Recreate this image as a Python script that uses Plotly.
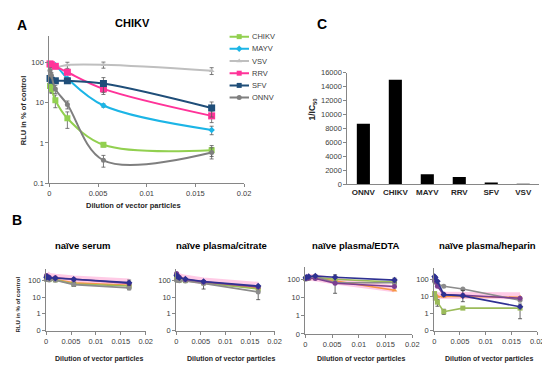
import plotly.graph_objects as go

W, H = 550, 366
FONT = "Arial, Liberation Sans, sans-serif"

# ---------------- data ----------------
dilution = [1/14580, 1/4860, 1/1620, 1/540, 1/180, 1/60]

a_names = ["CHIKV", "MAYV", "VSV", "RRV", "SFV", "ONNV"]
a_colors = ["#92d050", "#1cb5e6", "#bfbfbf", "#ff3399", "#1f4e79", "#7f7f7f"]
a_symbols = ["square", "diamond", "triangle-up", "square", "square", "circle"]
a_sizes = [6, 5, 5, 7, 7, 5]
chikv = [26, 22, 11.5, 4.1, 0.9, 0.66]
mayv = [92, 90, 85, 40, 8.5, 2.1]
vsv = [80, 78, 76, 86, 87, 62]
rrv = [92, 88, 80, 57, 22, 4.7]
sfv = [40, 36, 35, 35, 30, 7.4]
onnv = [63, 48, 22, 9, 0.37, 0.58]
a_values = [chikv, mayv, vsv, rrv, sfv, onnv]
chikv_err = [8, 5, 4, 1.8, 0.1, 0.2]
mayv_err = [0, 0, 0, 0, 0.8, 0.5]
vsv_err = [0, 0, 0, 15, 15, 12]
rrv_err = [0, 0, 0, 0, 6, 1.5]
sfv_err = [0, 0, 0, 0, 12, 3]
onnv_err = [10, 8, 5, 2, 0.12, 0.18]
a_errors = [chikv_err, mayv_err, vsv_err, rrv_err, sfv_err, onnv_err]

b_titles = ["naïve serum", "naïve plasma/citrate", "naïve plasma/EDTA", "naïve plasma/heparin"]
b_colors = ["#ffb3d9", "#f79646", "#9bbb59", "#8c8c8c", "#7b3f91", "#2e3192"]
b_symbols = ["circle", "triangle-up", "square", "circle", "circle", "diamond"]
serum = [
    [220, 200, 170, 150, 120, 80],
    [130, 125, 120, 110, 70, 50],
    [120, 115, 110, 105, 60, 45],
    [110, 110, 105, 100, 55, 35],
    [190, 170, 150, 140, 110, 65],
    [150, 160, 140, 130, 115, 72],
]
citrate = [
    [200, 180, 160, 130, 90, 50],
    [130, 150, 160, 110, 75, 35],
    [120, 110, 100, 95, 70, 30],
    [100, 100, 95, 90, 65, 20],
    [250, 190, 150, 110, 80, 40],
    [200, 170, 140, 120, 85, 45],
]
edta = [
    [130, 130, 125, 120, 80, 30],
    [100, 105, 110, 120, 80, 25],
    [110, 115, 120, 130, 100, 70],
    [100, 110, 120, 140, 65, 65],
    [110, 120, 115, 110, 60, 40],
    [120, 130, 140, 150, 130, 90],
]
heparin = [
    [10, 11, 11, 12, 12, 11],
    [12, 11, 10, 10, 10, 9],
    [15, 8, 4.7, 1.3, 2.1, 2.1],
    [80, 70, 55, 40, 28, 6],
    [100, 80, 40, 13, 12, 8],
    [150, 130, 80, 13, 11, 2.5],
]
b_values = [serum, citrate, edta, heparin]
# error bars (upper, lower) on selected series
serum_err = {3: ([0, 0, 0, 0, 15, 12], [0, 0, 0, 0, 12, 8]), 5: ([0, 0, 0, 0, 0, 30], [0, 0, 0, 0, 0, 20])}
citrate_err = {3: ([0, 0, 0, 0, 30, 15], [0, 0, 0, 0, 35, 13])}
edta_err = {3: ([0, 0, 0, 0, 110, 0], [0, 0, 0, 0, 48, 0]), 5: ([0, 0, 0, 0, 0, 25], [0, 0, 0, 0, 0, 20])}
heparin_err = {2: ([0, 0, 2, 0.5, 0, 1.5], [0, 0, 2, 0.4, 0, 1.6]), 5: ([0, 0, 0, 0, 12, 0], [0, 0, 0, 0, 6, 0])}
b_errors = [serum_err, citrate_err, edta_err, heparin_err]

c_categories = ["ONNV", "CHIKV", "MAYV", "RRV", "SFV", "VSV"]
c_values = [8700, 15000, 1450, 1050, 250, 80]

x_ticks = [0, 0.005, 0.01, 0.015, 0.02]
x_ticktext = ["0", "0.005", "0.01", "0.015", "0.02"]
a_yticks = [0.1, 1, 10, 100]
a_yticktext = ["0.1", "1", "10", "100"]
b_yticktext = ["0", "1", "10", "100"]
c_yticks = list(range(0, 16001, 2000))
c_yticktext = [str(v) for v in c_yticks]

# ---------------- helpers ----------------
def px_x(p):
    return p / W

def px_y(p):
    return 1 - p / H

AX = "#868686"
TXT = "#262626"

fig = go.Figure()

# Panel A
for name, col, sym, sz, vals, err in zip(a_names, a_colors, a_symbols, a_sizes, a_values, a_errors):
    fig.add_trace(go.Scatter(
        x=dilution, y=vals, mode="lines+markers", name=name,
        line=dict(color=col, width=2, shape="spline", smoothing=1),
        marker=dict(symbol=sym, size=sz, color=col),
        error_y=dict(type="data", array=err, arrayminus=[min(e, v * 0.6) for e, v in zip(err, vals)],
                     color="#595959", thickness=0.8, width=2),
        cliponaxis=False, showlegend=False, xaxis="x", yaxis="y"))

# custom compact legend (hidden axis 7)
for i, (name, col, sym) in enumerate(zip(a_names, a_colors, a_symbols)):
    fig.add_trace(go.Scatter(
        x=[0, 1], y=[i, i], mode="lines",
        line=dict(color=col, width=2),
        showlegend=False, xaxis="x7", yaxis="y7", cliponaxis=False, hoverinfo="skip"))
    fig.add_trace(go.Scatter(
        x=[0.5], y=[i], mode="markers",
        marker=dict(symbol=sym, size=5, color=col),
        showlegend=False, xaxis="x7", yaxis="y7", cliponaxis=False, hoverinfo="skip"))
    fig.add_annotation(x=px_x(244), y=i, xref="paper", yref="y7", text=name, showarrow=False,
                       xanchor="left", yanchor="middle", font=dict(size=7.5, color="#404040", family=FONT))

# Panel C
fig.add_trace(go.Bar(x=c_categories, y=c_values, marker=dict(color="black", line=dict(width=0)),
                     showlegend=False, xaxis="x2", yaxis="y2"))

# Panel B
b_xdom = [(36.7, 138), (169, 269), (300.3, 409), (431.3, 536)]
b_ydom = [(263.3, 326.7), (263.3, 326.7), (261.7, 330), (262, 326.7)]
b_ytop = [2.68, 2.68, 2.66, 2.70]
for k in range(4):
    xa = f"x{k+3}"
    ya = f"y{k+3}"
    for j, (col, sym, vals) in enumerate(zip(b_colors, b_symbols, b_values[k])):
        errs = b_errors[k].get(j)
        ed = dict(visible=False)
        if errs:
            ed = dict(type="data", array=errs[0], arrayminus=errs[1], color="#404040", thickness=0.8, width=2)
        if j == 0:
            fig.add_trace(go.Scatter(x=dilution, y=vals, mode="lines",
                                     line=dict(color="rgba(255,160,210,0.55)", width=7),
                                     showlegend=False, xaxis=xa, yaxis=ya, cliponaxis=False))
        else:
            fig.add_trace(go.Scatter(x=dilution, y=vals, mode="lines+markers",
                                     line=dict(color=col, width=1.6),
                                     marker=dict(symbol=sym, size=5, color=col),
                                     error_y=ed, showlegend=False, xaxis=xa, yaxis=ya, cliponaxis=False))

# ---------------- axes ----------------
tickfont = dict(size=7.5, color="#404040", family=FONT)
common = dict(showgrid=False, zeroline=False, showline=True, linecolor=AX, linewidth=1,
              ticks="outside", ticklen=3, tickcolor=AX, tickfont=tickfont)

layout = dict(
    width=W, height=H, margin=dict(l=0, r=0, t=0, b=0),
    paper_bgcolor="white", plot_bgcolor="white",
    font=dict(family=FONT, color=TXT),
    bargap=0.59,
    xaxis=dict(domain=[px_x(40), px_x(238)], range=[0, 0.02], tickvals=x_ticks, ticktext=x_ticktext,
               anchor="y", **common),
    yaxis=dict(domain=[px_y(175.5), px_y(25)], type="log", range=[-1, 2.647], tickvals=a_yticks,
               ticktext=a_yticktext, anchor="x", **common),
    xaxis2=dict(domain=[px_x(343), px_x(538)], type="category", anchor="y2", showgrid=False,
                showline=True, linecolor=AX, ticks="", tickvals=c_categories,
                ticktext=[f"<b>{c}</b>" for c in c_categories],
                tickfont=dict(size=8, color="#262626", family=FONT)),
    yaxis2=dict(domain=[px_y(176.7), px_y(62.3)], range=[0, 16000], tickvals=c_yticks,
                ticktext=c_yticktext, anchor="x2", **common),
    xaxis7=dict(domain=[px_x(223), px_x(243)], range=[0, 1], visible=False, anchor="y7"),
    yaxis7=dict(domain=[px_y(94), px_y(19)], range=[5.5, -0.5], visible=False, anchor="x7"),
)
for k in range(4):
    layout[f"xaxis{k+3}"] = dict(domain=[px_x(b_xdom[k][0]), px_x(b_xdom[k][1])], range=[0, 0.02],
                                 tickvals=x_ticks, ticktext=x_ticktext, anchor=f"y{k+3}", **common)
    layout[f"yaxis{k+3}"] = dict(domain=[px_y(b_ydom[k][1]), px_y(b_ydom[k][0])], type="log",
                                 range=[-1, b_ytop[k]], tickvals=a_yticks, ticktext=b_yticktext,
                                 anchor=f"x{k+3}", **common)
fig.update_layout(**layout)

# ---------------- text ----------------
def note(x, y, text, size, bold=True, angle=0, color="black", xanchor="center"):
    fig.add_annotation(x=px_x(x), y=px_y(y), xref="paper", yref="paper",
                       text=f"<b>{text}</b>" if bold else text, showarrow=False, textangle=angle,
                       xanchor=xanchor, yanchor="middle", font=dict(size=size, color=color, family=FONT))

note(12, 13, "A", 14)
note(7, 213, "B", 14)
note(317, 12, "C", 14)
note(125, 11, "CHIKV", 11)
note(14, 101, "RLU in % of control", 7.5, angle=-90, color=TXT)
note(126, 198, "Dilution of vector particles", 7.5, color=TXT)
note(308, 99, "1/IC<sub>50</sub>", 8.5, angle=-90, color=TXT)
b_title_x = [74, 215, 352, 485]
b_xtitle_x = [90, 225, 357, 487]
for k in range(4):
    note(b_title_x[k], 239.5, b_titles[k], 9.5)
    note(b_xtitle_x[k], 356, "Dilution of vector particles", 7, color=TXT)
note(8, 300, "RLU in % of control", 6, angle=-90, color=TXT)

fig.write_html("out.html")
